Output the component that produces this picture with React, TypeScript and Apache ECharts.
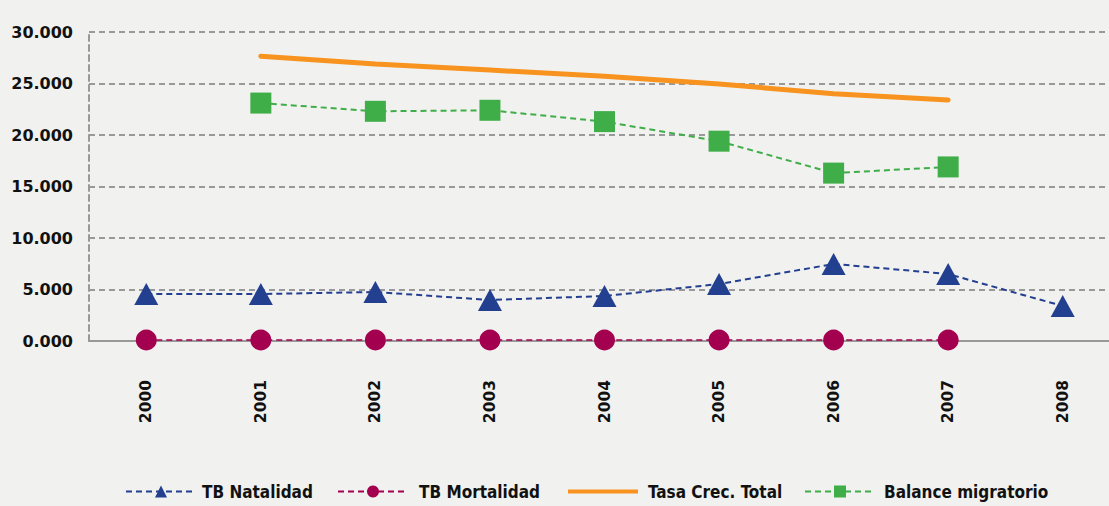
import React, { useEffect, useRef } from "react";
import * as echarts from "echarts";

const years = ["2000", "2001", "2002", "2003", "2004", "2005", "2006", "2007", "2008"];
const natalidad = [4.56, 4.56, 4.76, 3.98, 4.37, 5.53, 7.48, 6.5, 3.4];
const mortalidad = [0.1, 0.1, 0.1, 0.1, 0.1, 0.1, 0.1, 0.1, null];
const crecTotal = [null, 27.65, 26.9, 26.3, 25.7, 24.95, 24.0, 23.4, null];
const balance = [null, 23.1, 22.3, 22.4, 21.3, 19.4, 16.3, 16.9, null];
const yTicks = { min: 0, max: 30, interval: 5 };
const seriesNames = ["TB Natalidad", "TB Mortalidad", "Tasa Crec. Total", "Balance migratorio"];

export default function App() {
  const ref = useRef<HTMLDivElement>(null);
  useEffect(() => {
    const chart = echarts.init(ref.current!, null, { renderer: "svg" });
    const fam = "'DejaVu Sans', sans-serif";
    const legendLefts = [120, 332, 563, 799];
    const legendPads = [1, 6, 5, 4];
    const legends = seriesNames.map((n, i) => ({
      left: legendLefts[i],
      top: 478,
      itemWidth: 70,
      itemHeight: 15,
      textStyle: {
        fontFamily: "'DejaVu Sans Condensed', 'DejaVu Sans', sans-serif",
        fontWeight: "bold",
        fontSize: 17,
        color: "#111",
        padding: [0, 0, 0, legendPads[i]],
      },
      data: [i === 2 ? { name: n, icon: "path://M0,0h70v4h-70z" } : n],
    }));
    chart.setOption({
      animation: false,
      backgroundColor: "#f1f1ef",
      grid: { left: 89, top: 32, right: 0, height: 309 },
      xAxis: {
        type: "category",
        data: years,
        boundaryGap: true,
        axisLine: { lineStyle: { color: "#999", width: 2 } },
        axisTick: { show: false },
        axisLabel: {
          rotate: 90,
          margin: 39,
          color: "#111",
          fontFamily: fam,
          fontWeight: "bold",
          fontSize: 15.5,
        },
      },
      yAxis: {
        type: "value",
        min: yTicks.min,
        max: yTicks.max,
        interval: yTicks.interval,
        axisLine: { show: true, lineStyle: { color: "#999", type: [6, 4], width: 2 } },
        axisTick: { show: false },
        splitLine: { lineStyle: { color: "#999", type: [6, 4], width: 2 } },
        axisLabel: {
          formatter: (v: number) => v.toFixed(3),
          color: "#111",
          fontFamily: fam,
          fontWeight: "bold",
          fontSize: 16,
          margin: 16,
        },
      },
      legend: legends,
      series: [
        {
          name: seriesNames[0],
          type: "line",
          data: natalidad,
          symbol: "triangle",
          symbolSize: [24, 22],
          itemStyle: { color: "#233f8f" },
          lineStyle: { color: "#233f8f", type: [6, 4], width: 2 },
          z: 3,
        },
        {
          name: seriesNames[1],
          type: "line",
          data: mortalidad,
          symbol: "circle",
          symbolSize: 21,
          itemStyle: { color: "#a3004f" },
          lineStyle: { color: "#a3004f", type: [6, 4], width: 1.5 },
          z: 3,
        },
        {
          name: seriesNames[2],
          type: "line",
          data: crecTotal,
          symbol: "none",
          itemStyle: { color: "#f7931e" },
          lineStyle: { color: "#f7931e", width: 5, cap: "round" },
          z: 3,
        },
        {
          name: seriesNames[3],
          type: "line",
          data: balance,
          symbol: "rect",
          symbolSize: 21,
          itemStyle: { color: "#3fae49" },
          lineStyle: { color: "#3fae49", type: [6, 4], width: 2 },
          z: 3,
        },
      ],
    });
    return () => chart.dispose();
  }, []);
  return (
    <div
      style={{
        position: "fixed",
        left: 0,
        top: 0,
        width: 1109,
        height: 506,
        overflow: "hidden",
        background: "#f1f1ef",
      }}
    >
      <div ref={ref} style={{ width: 1120, height: 506 }} />
    </div>
  );
}
